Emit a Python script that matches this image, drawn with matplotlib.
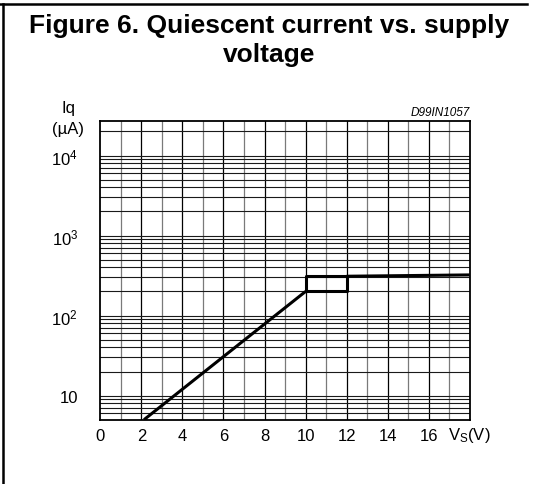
import numpy as np
import matplotlib.pyplot as plt
from matplotlib.lines import Line2D

plt.rcParams['font.family'] = ['Liberation Sans', 'DejaVu Sans']
plt.rcParams['mathtext.fontset'] = 'custom'
plt.rcParams['mathtext.rm'] = 'Liberation Sans'
plt.rcParams['mathtext.it'] = 'Liberation Sans:italic'

# Iq vs Vs curve (rising part, then hysteresis box, then flat part)
vs_rise = [2.13, 10.0]
iq_rise = [5.0, 200.0]
vs_box = [10.0, 10.0, 12.0, 12.0, 10.0]
iq_box = [200.0, 310.0, 310.0, 200.0, 200.0]
vs_flat = [12.0, 18.0]
iq_flat = [310.0, 322.0]

x_ticks = [0, 2, 4, 6, 8, 10, 12, 14, 16]
y_ticks = [10, 100, 1000, 10000]
y_labels = ['10', '10$^\\mathregular{2}$', '10$^\\mathregular{3}$', '10$^\\mathregular{4}$']

fig = plt.figure(figsize=(5.41, 4.85), dpi=100)
ax = fig.add_axes([0.1854, 0.1326, 0.6829, 0.6159])

ax.set_xlim(0, 18)
ax.set_yscale('log')
ax.set_ylim(5, 27000)

# grid: vertical every 1 V, odd ones gray
for v in range(1, 18):
    ax.axvline(v, color='black' if v % 2 == 0 else '#7a7a7a', lw=0.9, zorder=1)
# horizontal log grid
for dec in [1, 10, 100, 1000, 10000]:
    for m in range(1, 10):
        y = dec * m
        if 5 < y < 27000:
            ax.axhline(y, color='#1a1a1a', lw=0.8, zorder=1)

ax.plot(vs_rise, iq_rise, color='black', lw=2.2, zorder=3, solid_capstyle='butt')
ax.plot(vs_box, iq_box, color='black', lw=2.2, zorder=3)
ax.plot(vs_flat, iq_flat, color='black', lw=2.2, zorder=3, solid_capstyle='butt')

ax.set_xticks(x_ticks)
ax.set_xticklabels([str(t) for t in x_ticks], fontsize=12)
ax.set_yticks(y_ticks)
ax.set_yticklabels(y_labels, fontsize=12)
ax.yaxis.set_minor_locator(plt.NullLocator())
ax.tick_params(axis='both', length=0)
ax.tick_params(axis='x', pad=6)
ax.tick_params(axis='y', pad=16)
for s in ax.spines.values():
    s.set_linewidth(1.3)

fig.text(0.8275, 0.1016, 'V$_\\mathregular{S}$(V)', fontsize=12, ha='left', va='center')
fig.text(0.1266, 0.777, 'Iq', fontsize=12, ha='center', va='center')
fig.text(0.1248, 0.732, '(µA)', fontsize=12, ha='center', va='center')
fig.text(0.8688, 0.768, 'D99IN1057', fontsize=8.5, style='italic', ha='right', va='center')

fig.text(0.4967, 1 - 33 / 485, 'Figure 6. Quiescent current vs. supply', fontsize=19,
         fontweight='bold', ha='center', va='baseline')
fig.text(0.4967, 1 - 62 / 485, 'voltage', fontsize=19,
         fontweight='bold', ha='center', va='baseline')

# page frame
fig.add_artist(Line2D([0, 527 / 541], [1 - 5 / 485, 1 - 5 / 485], color='black', lw=1.8,
                      transform=fig.transFigure))
fig.add_artist(Line2D([2.7 / 541, 2.7 / 541], [0, 1 - 5 / 485], color='black', lw=1.8,
                      transform=fig.transFigure))

fig.savefig('out.png', dpi=100)
